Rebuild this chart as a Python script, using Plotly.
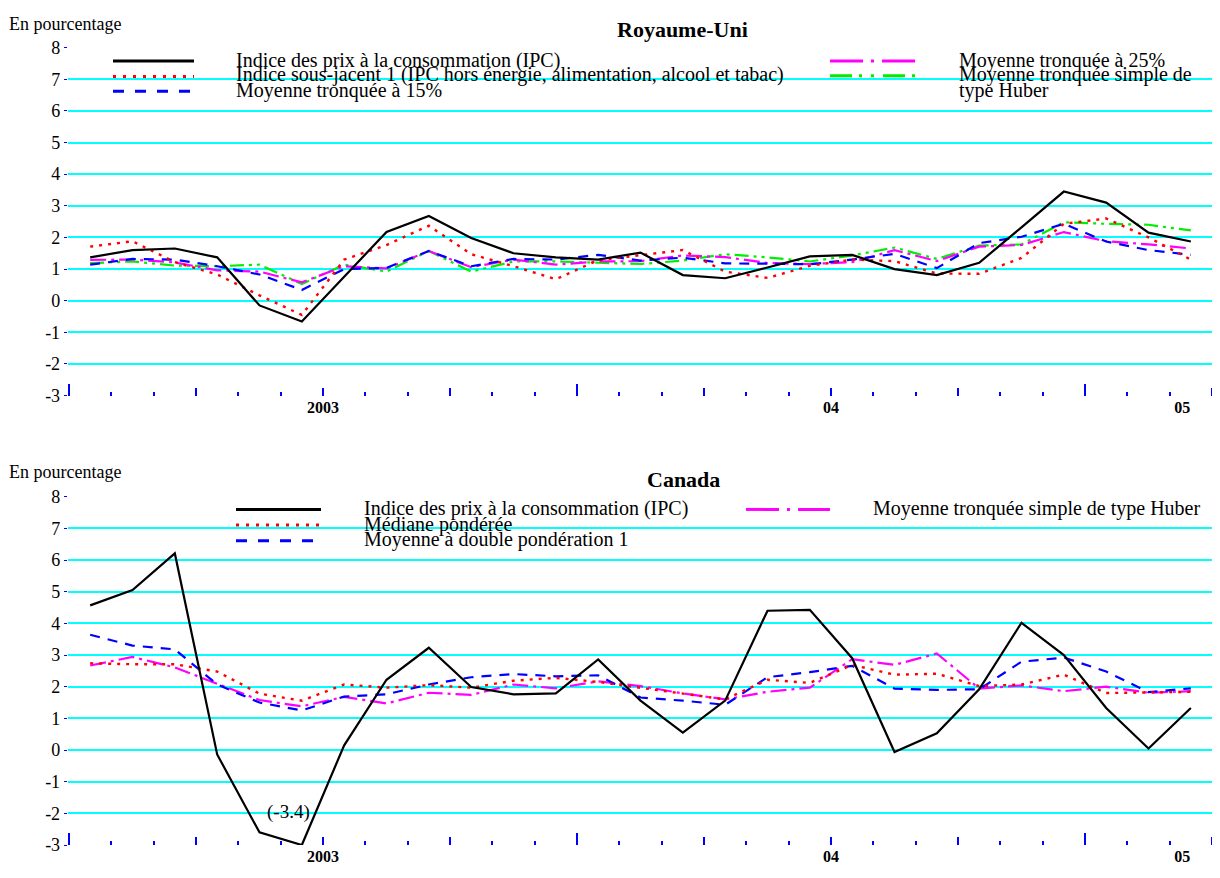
import plotly.graph_objects as go

# ---------------- data ----------------
months = ["2003-%02d" % m for m in range(1, 13)] + ["2004-%02d" % m for m in range(1, 13)] + ["2005-%02d" % m for m in range(1, 4)]
year_labels = ["2003", "04", "05"]
year_label_pos = [6, 18, 26.3]
y_ticks = [-3, -2, -1, 0, 1, 2, 3, 4, 5, 6, 7, 8]

uk_ipc = [1.37, 1.60, 1.65, 1.37, -0.15, -0.66, 0.76, 2.17, 2.68, 1.98, 1.50, 1.37, 1.30,
          1.52, 0.81, 0.71, 1.05, 1.40, 1.45, 1.00, 0.81, 1.20, 2.32, 3.45, 3.10, 2.15, 1.87]
uk_core = [1.71, 1.88, 1.22, 0.83, 0.17, -0.45, 1.30, 1.76, 2.37, 1.47, 1.09, 0.68, 1.28,
           1.45, 1.60, 0.92, 0.72, 1.10, 1.30, 1.25, 0.86, 0.85, 1.35, 2.43, 2.60, 2.00, 1.30]
uk_trim15 = [1.14, 1.32, 1.30, 1.09, 0.83, 0.34, 1.00, 1.04, 1.57, 1.09, 1.32, 1.30, 1.45,
             1.27, 1.36, 1.18, 1.17, 1.15, 1.30, 1.48, 1.03, 1.82, 2.02, 2.43, 1.87, 1.60, 1.45]
uk_trim25 = [1.29, 1.30, 1.21, 0.96, 0.92, 0.58, 1.09, 1.02, 1.57, 1.06, 1.30, 1.14, 1.24,
             1.25, 1.43, 1.38, 1.19, 1.16, 1.22, 1.60, 1.25, 1.71, 1.76, 2.17, 1.88, 1.78, 1.65]
uk_huber = [1.19, 1.24, 1.11, 1.09, 1.14, 0.53, 1.14, 0.92, 1.57, 0.92, 1.24, 1.24, 1.20,
            1.16, 1.27, 1.47, 1.37, 1.24, 1.43, 1.68, 1.32, 1.74, 1.78, 2.48, 2.43, 2.40, 2.22]

ca_ipc = [4.57, 5.05, 6.21, -0.14, -2.60, -3.40, 0.15, 2.22, 3.23, 1.99, 1.76, 1.79, 2.86,
          1.56, 0.55, 1.56, 4.40, 4.43, 2.90, -0.06, 0.53, 1.92, 4.02, 3.00, 1.33, 0.05, 1.33]
ca_median = [2.74, 2.71, 2.71, 2.48, 1.78, 1.56, 2.07, 1.97, 2.05, 1.97, 2.19, 2.28, 2.15,
             1.97, 1.78, 1.60, 2.22, 2.12, 2.69, 2.38, 2.41, 2.02, 2.07, 2.38, 1.80, 1.83, 1.84]
ca_double = [3.64, 3.30, 3.18, 2.07, 1.50, 1.25, 1.69, 1.76, 2.07, 2.30, 2.40, 2.33, 2.36,
             1.66, 1.56, 1.43, 2.30, 2.46, 2.66, 1.94, 1.90, 1.92, 2.79, 2.92, 2.48, 1.83, 1.95]
ca_huber = [2.67, 2.94, 2.61, 2.09, 1.58, 1.38, 1.68, 1.47, 1.81, 1.74, 2.07, 1.95, 2.17,
            2.02, 1.79, 1.60, 1.84, 1.97, 2.87, 2.69, 3.05, 1.94, 2.04, 1.86, 2.00, 1.81, 1.86]

uk_names = ["Indice des prix à la consommation (IPC)",
            "Indice sous-jacent 1 (IPC hors énergie, alimentation, alcool et tabac)",
            "Moyenne tronquée à 15%",
            "Moyenne tronquée à 25%",
            "Moyenne tronquée simple de", "type Huber"]
ca_names = ["Indice des prix à la consommation (IPC)",
            "Médiane pondérée",
            "Moyenne à double pondération 1",
            "Moyenne tronquée simple de type Huber"]

# ---------------- styling ----------------
PAGE_OFF = 8              # default body margin of the html page
W, H = 1220 - PAGE_OFF, 878 - PAGE_OFF
FONT = "Liberation Serif"
Y_MIN, Y_MAX = -3, 8
N_MONTHS = len(months)
x_pos = [i + 0.5 for i in range(N_MONTHS)]
EPS = 0.03                # tiny range padding so edge ticks are drawn
MONTH_PX = (1212 - 69) / N_MONTHS

def fx(px):
    return (px - PAGE_OFF) / W

def fy(py):
    return 1 - (py - PAGE_OFF) / H

BLACK = dict(color="black", dash="solid", width=2.2)
RED = dict(color="#ff0000", dash="3px,6px", width=2.4)
BLUE = dict(color="#0000ff", dash="10px,8px", width=2.2)
MAGENTA = dict(color="#ff00ff", dash="16px,5px,3px,5px", width=2.2)
GREEN = dict(color="#00ee00", dash="14px,5px,3px,5px,3px,5px", width=2.2)

fig = go.Figure()

def clip(vals):
    return [max(v, Y_MIN) for v in vals]

for vals, style, name in [(uk_huber, GREEN, uk_names[4] + " " + uk_names[5]),
                          (uk_trim25, MAGENTA, uk_names[3]),
                          (uk_trim15, BLUE, uk_names[2]),
                          (uk_core, RED, uk_names[1]),
                          (uk_ipc, BLACK, uk_names[0])]:
    fig.add_trace(go.Scatter(x=x_pos, y=clip(vals), mode="lines", line=style, name=name,
                             xaxis="x", yaxis="y", showlegend=False))

for vals, style, name in [(ca_huber, MAGENTA, ca_names[3]),
                          (ca_double, BLUE, ca_names[2]),
                          (ca_median, RED, ca_names[1]),
                          (ca_ipc, BLACK, ca_names[0])]:
    fig.add_trace(go.Scatter(x=x_pos, y=clip(vals), mode="lines", line=style, name=name,
                             xaxis="x2", yaxis="y2", showlegend=False))

# dummy traces so that tick-only overlay axes exist
for xa, ya in [("x3", "y"), ("x5", "y"), ("x4", "y2"), ("x6", "y2")]:
    fig.add_trace(go.Scatter(x=[None], y=[None], xaxis=xa, yaxis=ya, showlegend=False,
                             hoverinfo="skip"))

xdom = [fx(69 - EPS * MONTH_PX), fx(1212 + EPS * MONTH_PX)]
xrange_ = [-EPS, N_MONTHS + EPS]
top_dom = [fy(394.5), fy(38.3)]
bot_dom = [fy(854.5), fy(498)]

yaxis_common = dict(range=[Y_MIN, Y_MAX], tickmode="array", tickvals=y_ticks,
                    ticktext=[str(v) for v in y_ticks],
                    showgrid=True, gridcolor="#00ffff", gridwidth=1.6,
                    ticks="outside", ticklen=3, tickwidth=1, tickcolor="blue",
                    showline=False, zeroline=False,
                    tickfont=dict(family=FONT, size=18, color="black"))

label_axis = dict(domain=xdom, range=xrange_, tickmode="array",
                  tickvals=year_label_pos, ticktext=year_labels, ticks="",
                  showgrid=False, zeroline=False, showline=False,
                  tickfont=dict(family=FONT, size=16, color="black", weight="bold"))

quarter_axis = dict(range=xrange_, tickmode="array",
                    tickvals=list(range(0, N_MONTHS + 1, 3)), ticks="inside", ticklen=8,
                    tickwidth=1.5, tickcolor="blue", showticklabels=False,
                    showgrid=False, zeroline=False, showline=False,
                    minor=dict(tickmode="array", tickvals=list(range(0, N_MONTHS + 1)),
                               ticks="inside", ticklen=4, tickwidth=1.5, tickcolor="blue",
                               showgrid=False))

year_axis = dict(range=xrange_, tickmode="array",
                 tickvals=list(range(0, N_MONTHS + 1, 12)), ticks="inside", ticklen=12,
                 tickwidth=1.8, tickcolor="blue", showticklabels=False,
                 showgrid=False, zeroline=False, showline=False)

fig.update_layout(
    width=W, height=H,
    margin=dict(l=0, r=0, t=0, b=0),
    paper_bgcolor="white", plot_bgcolor="white",
    showlegend=False,
    font=dict(family=FONT, color="black"),
    yaxis=dict(domain=top_dom, anchor="x", **yaxis_common),
    yaxis2=dict(domain=bot_dom, anchor="x2", **yaxis_common),
    xaxis=dict(anchor="y", **label_axis),
    xaxis2=dict(anchor="y2", **label_axis),
    xaxis3=dict(overlaying="x", anchor="y", **quarter_axis),
    xaxis4=dict(overlaying="x2", anchor="y2", **quarter_axis),
    xaxis5=dict(overlaying="x", anchor="y", **year_axis),
    xaxis6=dict(overlaying="x2", anchor="y2", **year_axis),
)

ann = []
def text(x, y, s, size=20, bold=False, xanchor="left"):
    ann.append(dict(x=fx(x), y=fy(y), xref="paper", yref="paper", text=s, showarrow=False,
                    xanchor=xanchor, yanchor="middle", borderpad=0,
                    font=dict(family=FONT, size=size, color="black",
                              weight="bold" if bold else "normal")))

# headings
text(8, 14, "En pourcentage", size=18)
text(8, 473, "En pourcentage", size=18)
text(682, 20, "Royaume-Uni", size=22, bold=True, xanchor="center")
text(683, 480, "Canada", size=22, bold=True, xanchor="center")

shapes = []
def sample(x0, x1, y, style, dash=None):
    shapes.append(dict(type="line", xref="paper", yref="paper", x0=fx(x0), x1=fx(x1),
                       y0=fy(y), y1=fy(y),
                       line=dict(color=style["color"], width=3,
                                 dash=dash if dash else style["dash"])))

# UK legend
sample(113, 194, 52, BLACK)
sample(113, 194, 68, RED, "3px,7px")
sample(113, 192, 83, BLUE, "11px,11px")
text(235, 51, uk_names[0])
text(235, 66, uk_names[1])
text(235, 82, uk_names[2])
sample(830, 917, 52, MAGENTA, "33px,8px,3px,8px")
sample(830, 917, 67, GREEN, "22px,7px,3px,9px,3px,9px")
text(958, 51, uk_names[3])
text(958, 66, uk_names[4])
text(958, 82, uk_names[5])

# Canada legend
sample(236, 321, 511, BLACK)
sample(236, 321, 527, RED, "3px,7px")
sample(236, 321, 543, BLUE, "11px,11px")
text(363, 510, ca_names[0])
text(363, 526, ca_names[1])
text(363, 542, ca_names[2])
sample(746, 830, 511, MAGENTA, "33px,8px,3px,8px")
text(872, 510, ca_names[3])

# clipped value note
ann.append(dict(x=x_pos[5], y=-1.97, xref="x2", yref="y2", text="(%s)" % ca_ipc[5],
                showarrow=False, xanchor="right", yanchor="middle", xshift=10,
                font=dict(family=FONT, size=19, color="black")))

fig.update_layout(annotations=ann, shapes=shapes)
fig.write_html("out.html")
